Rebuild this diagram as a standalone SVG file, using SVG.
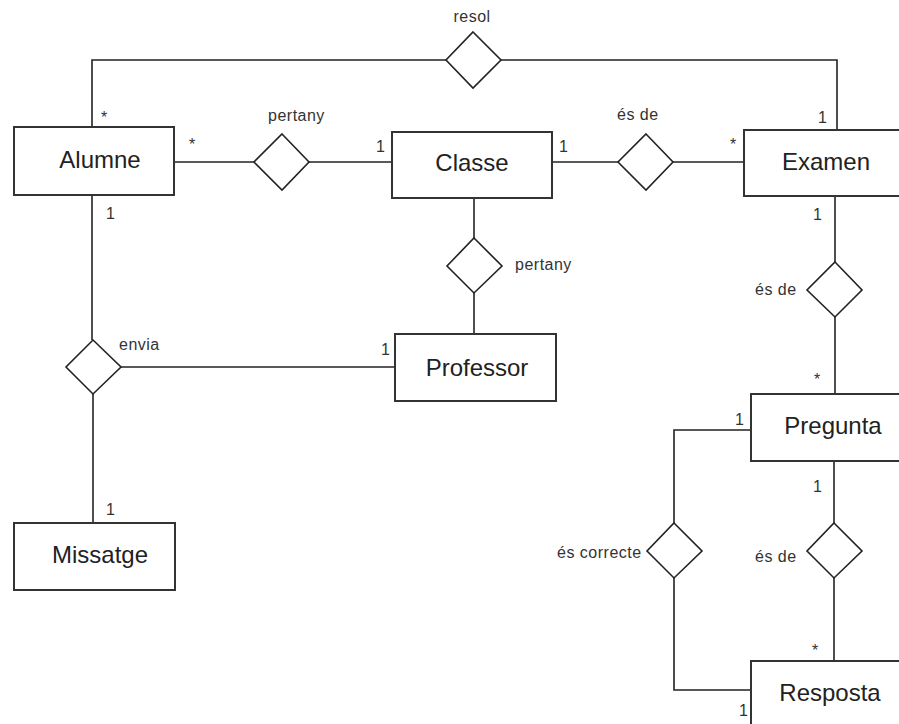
<svg xmlns="http://www.w3.org/2000/svg" width="899" height="724" viewBox="0 0 899 724">
<style>
.ent rect{fill:#fff;stroke:#333;stroke-width:2}
.ent text{font-family:"Liberation Sans",Arial,sans-serif;font-size:24px;fill:#222;text-anchor:middle}
.rel polygon{fill:#fff;stroke:#222;stroke-width:1.6}
.lbl{font-family:"Liberation Sans",Arial,sans-serif;font-size:16px;letter-spacing:0.5px;fill:#333}
.card{font-family:"Liberation Sans",Arial,sans-serif;font-size:16px;fill:#333}
#connectors path{fill:none;stroke:#222;stroke-width:1.6}
</style>
<rect width="899" height="724" fill="#fff"/>
<g id="connectors">
<path d="M92 127 V60 H446"/>
<path d="M501 60 H837 V130"/>
<path d="M174 162 H254"/>
<path d="M309 162 H392"/>
<path d="M552 162 H618"/>
<path d="M673 162 H744"/>
<path d="M474 198 V238"/>
<path d="M474 293 V334"/>
<path d="M92 195 V340"/>
<path d="M121 367 H395"/>
<path d="M93 394 V523"/>
<path d="M835 196 V262"/>
<path d="M835 317 V394"/>
<path d="M751 430 H674 V523"/>
<path d="M674 578 V690 H751"/>
<path d="M834 461 V523"/>
<path d="M834 578 V661"/>
</g>
<g id="Alumne" class="ent"><rect x="14" y="127" width="160" height="68"/><text x="100" y="168">Alumne</text></g>
<g id="Classe" class="ent"><rect x="392" y="132" width="160" height="66"/><text x="472" y="171">Classe</text></g>
<g id="Examen" class="ent"><rect x="744" y="130" width="165" height="66"/><text x="826" y="170">Examen</text></g>
<g id="Professor" class="ent"><rect x="395" y="334" width="161" height="67"/><text x="477" y="376">Professor</text></g>
<g id="Missatge" class="ent"><rect x="14" y="523" width="161" height="67"/><text x="100" y="563">Missatge</text></g>
<g id="Pregunta" class="ent"><rect x="751" y="394" width="165" height="67"/><text x="833" y="434">Pregunta</text></g>
<g id="Resposta" class="ent"><rect x="751" y="661" width="165" height="70"/><text x="830" y="701">Resposta</text></g>
<g id="resol" class="rel"><polygon points="473,32 501,60 473,88 446,60"/><text class="lbl" x="472" y="22" text-anchor="middle">resol</text></g>
<g id="pertany1" class="rel"><polygon points="282,134 309,162 282,190 254,162"/><text class="lbl" x="268" y="121">pertany</text></g>
<g id="esde1" class="rel"><polygon points="646,134 673,162 646,190 618,162"/><text class="lbl" x="617" y="120">és de</text></g>
<g id="pertany2" class="rel"><polygon points="474,238 502,266 474,293 447,266"/><text class="lbl" x="515" y="270">pertany</text></g>
<g id="envia" class="rel"><polygon points="93,340 121,367 93,394 66,367"/><text class="lbl" x="119" y="350">envia</text></g>
<g id="esde2" class="rel"><polygon points="835,262 862,290 835,317 807,290"/><text class="lbl" x="755" y="295">és de</text></g>
<g id="escorrecte" class="rel"><polygon points="674,523 702,551 674,578 647,551"/><text class="lbl" x="557" y="558">és correcte</text></g>
<g id="esde3" class="rel"><polygon points="834,523 862,551 834,578 807,551"/><text class="lbl" x="755" y="562">és de</text></g>
<g id="cardinalities">
<text class="card" x="101" y="123">*</text>
<text class="card" x="189" y="150">*</text>
<text class="card" x="376" y="152">1</text>
<text class="card" x="559" y="152">1</text>
<text class="card" x="730" y="150">*</text>
<text class="card" x="818" y="123">1</text>
<text class="card" x="106" y="219">1</text>
<text class="card" x="813" y="220">1</text>
<text class="card" x="381" y="355">1</text>
<text class="card" x="106" y="515">1</text>
<text class="card" x="814" y="385">*</text>
<text class="card" x="735" y="425">1</text>
<text class="card" x="813" y="492">1</text>
<text class="card" x="812" y="656">*</text>
<text class="card" x="739" y="716">1</text>
</g>
</svg>
